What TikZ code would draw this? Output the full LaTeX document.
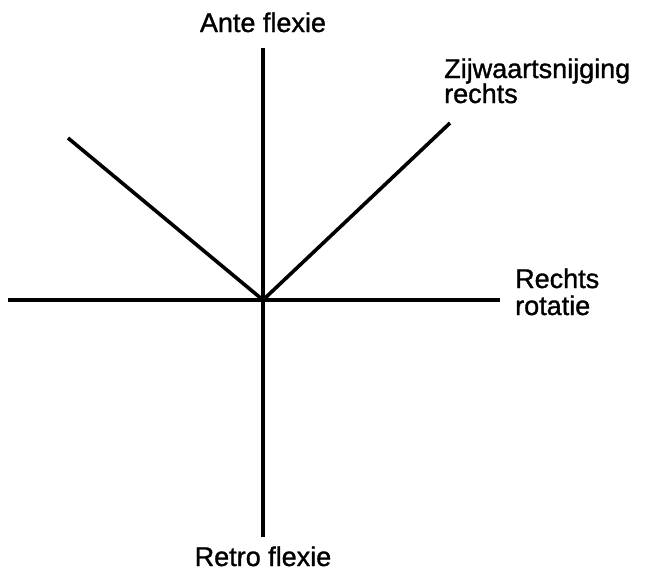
\documentclass[tikz,border=0pt]{standalone}
\usepackage{fontspec}
\setmainfont[FakeBold=1.2,AutoFakeBold=1.2]{Liberation Sans}
\begin{document}
\begin{tikzpicture}[x=1pt,y=-1pt,
  axis/.style={line width=3.6pt},
  lbl/.style={inner sep=0pt,font=\fontsize{27}{27}\selectfont}]
\useasboundingbox (0,0) rectangle (647,573);
\coordinate (o) at (263,300);
\coordinate (top) at (263,48);
\coordinate (bot) at (263,537);
\coordinate (lft) at (8,300);
\coordinate (rgt) at (500,300);
\coordinate (ul) at (68,138);
\coordinate (ur) at (450,123);
\draw[axis] (top) -- (bot);
\draw[axis] (lft) -- (rgt);
\draw[axis] (ul) -- (o) -- (ur);
\node[lbl,anchor=base] (ante) at (263,32) {Ante flexie};
\node[lbl,anchor=base] (retro) at (263,566) {Retro flexie};
\node[lbl,anchor=base west] (zij) at (444,78) {Zijwaartsnijging};
\node[lbl,anchor=base west] (zij2) at (444,103) {rechts};
\node[lbl,anchor=base west] (rot) at (515,288) {Rechts};
\node[lbl,anchor=base west] (rot2) at (515,315) {rotatie};
\end{tikzpicture}
\end{document}
